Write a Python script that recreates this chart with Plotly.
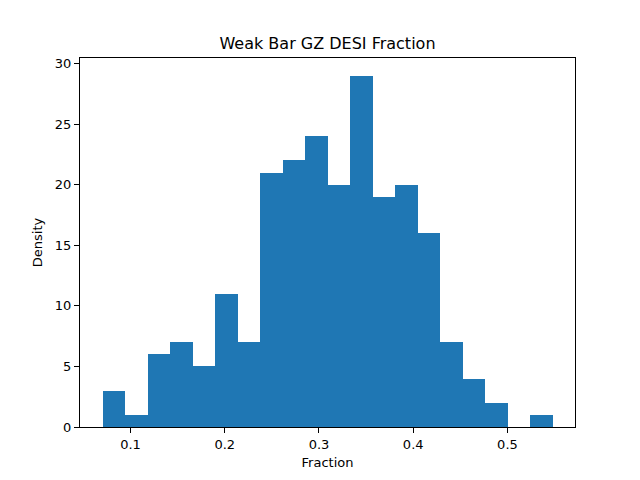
import plotly.graph_objects as go

# histogram counts per bin (20 bins)
counts = [3, 1, 6, 7, 5, 11, 7, 21, 22, 24, 20, 29, 19, 20, 16, 7, 4, 2, 0, 1]
bin_start = 0.0703
bin_end = 0.5478
tick_vals = [0.1, 0.2, 0.3, 0.4, 0.5]
y_ticks = [0, 5, 10, 15, 20, 25, 30]

n_bins = len(counts)
bin_width = (bin_end - bin_start) / n_bins
centers = [bin_start + bin_width * (i + 0.5) for i in range(n_bins)]

pad_x = (bin_end - bin_start) * 0.05
y_max = max(counts) * 1.05

fig = go.Figure(go.Bar(
    x=centers, y=counts, width=[bin_width] * n_bins,
    marker=dict(color='#1f77b4', line=dict(width=0)),
))

axis_common = dict(
    showgrid=False, zeroline=False, showline=True, mirror=True,
    linecolor='black', linewidth=1, ticks='outside', ticklen=5,
    tickcolor='black', tickfont=dict(size=13, color='black'),
)

# page body adds an 8px offset, so margins are shifted to compensate
fig.update_layout(
    width=640, height=480,
    margin=dict(l=72, r=73, t=50, b=61),
    plot_bgcolor='white', paper_bgcolor='white',
    font=dict(family='DejaVu Sans', color='black'),
    title=dict(text='Weak Bar GZ DESI Fraction', x=(72 + 495 / 2) / 640, xanchor='center',
               y=1 - 35 / 480, yanchor='middle', font=dict(size=16)),
    bargap=0,
    showlegend=False,
    xaxis=dict(range=[bin_start - pad_x, bin_end + pad_x], tickvals=tick_vals,
               ticktext=[str(v) for v in tick_vals],
               title=dict(text='Fraction', font=dict(size=13), standoff=7),
               **axis_common),
    yaxis=dict(range=[0, y_max], tickvals=y_ticks,
               title=dict(text='Density', font=dict(size=13), standoff=9),
               **axis_common),
)

fig.write_html("out.html")
